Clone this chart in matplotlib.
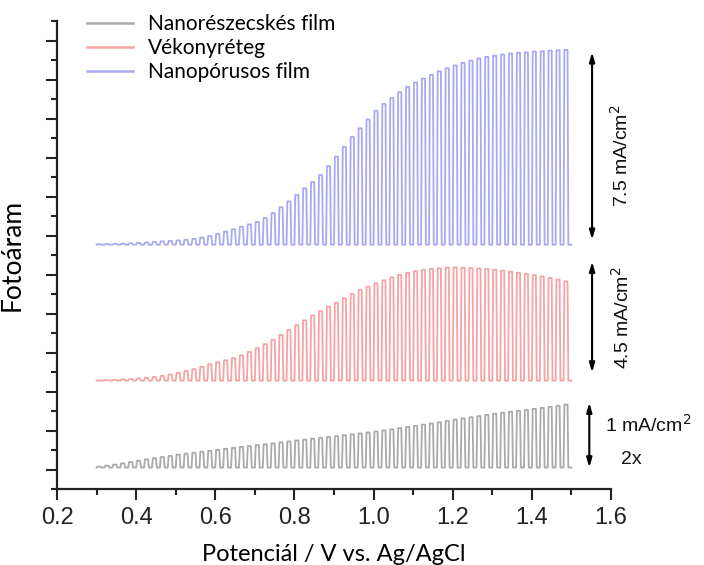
import matplotlib.pyplot as plt
import numpy as np
from matplotlib.ticker import MultipleLocator, NullFormatter

# chopped-light sweep: one light on/off cycle every 20 mV from 0.30 V
potential_start = 0.30
chop_step = 0.02

# dark-current baselines and light-on peak currents per cycle (offset, tick units)
np_base = 0.10
np_peak = [0.15, 0.20, 0.25, 0.32, 0.38, 0.45, 0.52, 0.58, 0.64, 0.70,
           0.76, 0.81, 0.86, 0.91, 0.96, 1.01, 1.06, 1.11, 1.16, 1.20,
           1.25, 1.29, 1.34, 1.39, 1.44, 1.49, 1.53, 1.58, 1.62, 1.67,
           1.71, 1.76, 1.80, 1.85, 1.90, 1.95, 2.00, 2.06, 2.12, 2.18,
           2.24, 2.30, 2.36, 2.42, 2.49, 2.56, 2.62, 2.68, 2.74, 2.80,
           2.86, 2.91, 2.96, 3.01, 3.06, 3.11, 3.16, 3.21, 3.27, 3.33]

thin_base = 4.56
thin_peak = [4.57, 4.58, 4.60, 4.62, 4.64, 4.67, 4.70, 4.75, 4.80, 4.87,
             4.95, 5.05, 5.15, 5.27, 5.40, 5.50, 5.60, 5.72, 5.85, 6.03,
             6.22, 6.43, 6.65, 6.90, 7.15, 7.40, 7.65, 7.90, 8.12, 8.35,
             8.55, 8.78, 9.00, 9.20, 9.38, 9.55, 9.70, 9.85, 9.98, 10.09,
             10.17, 10.24, 10.29, 10.32, 10.35, 10.36, 10.35, 10.33, 10.31, 10.28,
             10.24, 10.20, 10.15, 10.09, 10.03, 9.97, 9.90, 9.82, 9.74, 9.65]

pore_base = 11.53
pore_peak = [11.55, 11.56, 11.57, 11.58, 11.60, 11.62, 11.64, 11.67, 11.70, 11.72,
             11.75, 11.78, 11.83, 11.90, 11.98, 12.08, 12.20, 12.32, 12.45, 12.57,
             12.70, 12.90, 13.15, 13.45, 13.75, 14.08, 14.42, 14.75, 15.10, 15.55,
             16.05, 16.55, 17.05, 17.50, 17.95, 18.40, 18.75, 19.05, 19.35, 19.62,
             19.85, 20.05, 20.24, 20.42, 20.58, 20.72, 20.85, 20.97, 21.08, 21.16,
             21.22, 21.28, 21.33, 21.37, 21.40, 21.43, 21.45, 21.48, 21.50, 21.52]

labels = ["Nanorészecskés film", "Vékonyréteg", "Nanopórusos film"]
colors = ["#a9a9a9", "#f5a3a3", "#a9a9f2"]

# scale bars: (potential, bottom, top)
bars = [(1.545, 0.10, 3.43), (1.552, 4.97, 10.66), (1.552, 11.78, 21.40)]


def chopped(base, peaks):
    xs, ys = [], []
    for i, p in enumerate(peaks):
        s = potential_start + i * chop_step
        xs += [s, s + 0.1 * chop_step, s + 0.5 * chop_step, s + 0.6 * chop_step]
        ys += [base, p, p, base]
    xs.append(potential_start + len(peaks) * chop_step)
    ys.append(base)
    return np.array(xs), np.array(ys)


fig = plt.figure(figsize=(7.04, 5.65), dpi=100)
ax = fig.add_axes([0.081, 0.1345, 0.787, 0.8283])

series = [(np_base, np_peak), (thin_base, thin_peak), (pore_base, pore_peak)]
for (base, peaks), label, color in zip(series, labels, colors):
    x, y = chopped(base, peaks)
    ax.plot(x, y, color=color, lw=1.3, label=label)

ax.set_xlim(0.2, 1.6)
ax.set_ylim(-1, 23)
ax.xaxis.set_major_locator(MultipleLocator(0.2))
ax.xaxis.set_minor_locator(MultipleLocator(0.1))
ax.yaxis.set_major_locator(MultipleLocator(2))
ax.yaxis.set_minor_locator(MultipleLocator(1))
ax.yaxis.set_major_formatter(NullFormatter())
ax.xaxis.set_major_formatter(plt.FuncFormatter(lambda v, _: f"{v:.1f}"))
for side in ["top", "right"]:
    ax.spines[side].set_visible(False)
for side in ["left", "bottom"]:
    ax.spines[side].set_linewidth(1.6)
    ax.spines[side].set_color("#222222")
ax.tick_params(which="major", length=8, width=1.5, color="#222222")
ax.tick_params(which="minor", length=4.5, width=1.5, color="#222222")
ax.tick_params(axis="x", labelsize=17, labelcolor="#222222",
               labelfontfamily="Liberation Sans", pad=5)

ax.set_xlabel("Potenciál / V vs. Ag/AgCl", fontsize=17, family="Lato", labelpad=11)
ax.set_ylabel("Fotoáram", fontsize=19, family="Lato", labelpad=12)

leg = ax.legend(loc="upper left", bbox_to_anchor=(0.02, 1.055), frameon=False,
                handlelength=2.2, handletextpad=0.72, labelspacing=0.2,
                prop={"family": "Lato", "size": 15})
for line in leg.get_lines():
    line.set_linewidth(1.8)

for xpos, lo, hi in bars:
    ax.annotate("", xy=(xpos, lo), xytext=(xpos, hi),
                arrowprops=dict(arrowstyle="<|-|>,head_length=0.55,head_width=0.16",
                                color="black", lw=1.5, shrinkA=0, shrinkB=0),
                annotation_clip=False)

txt = dict(family="Liberation Sans", fontsize=14, color="#111111", ha="center", va="center")
ax.text(1.625, 16.1, "7.5 mA/cm$^2$", rotation=90, clip_on=False, **txt)
ax.text(1.627, 7.8, "4.5 mA/cm$^2$", rotation=90, clip_on=False, **txt)
ax.text(1.695, 2.3, "1 mA/cm$^2$", clip_on=False, **txt)
ax.text(1.652, 0.5, "2x", clip_on=False, **txt)

fig.savefig("out.png", dpi=100)
